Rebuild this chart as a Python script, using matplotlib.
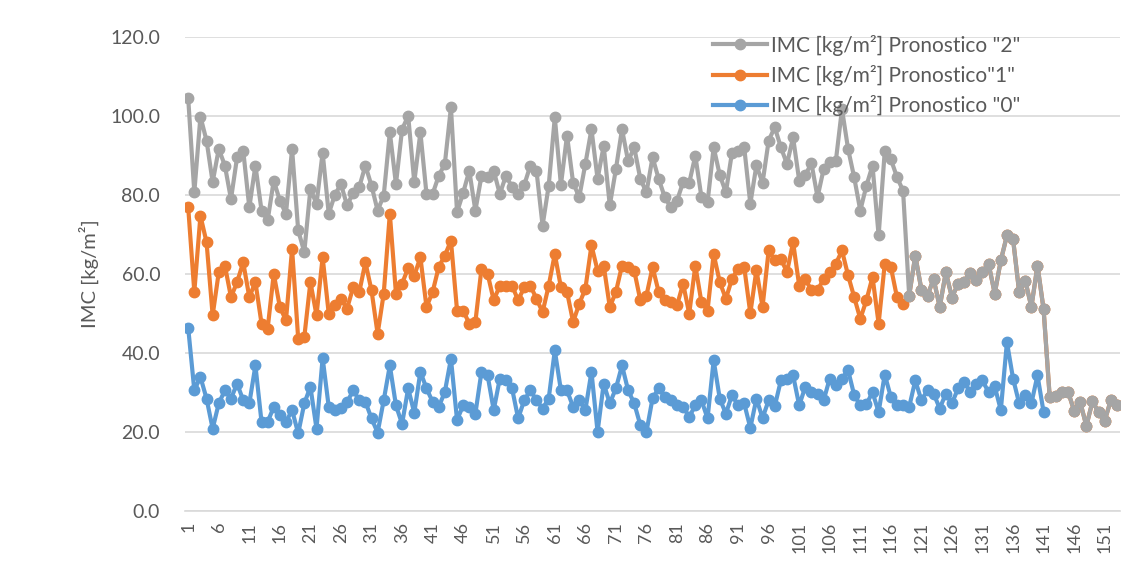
# IMC por pronostico: tres series de línea con marcadores
import matplotlib
matplotlib.use("Agg")
import matplotlib.pyplot as plt
import numpy as np

plt.rcParams['font.family'] = ['Lato', 'DejaVu Sans']

# valores
gris = [104.4, 80.6, 99.8, 93.7, 83.2, 91.6, 87.4, 78.9, 89.5, 91.2,
        76.8, 87.4, 76.0, 73.5, 83.6, 78.5, 75.2, 91.6, 71.0, 65.5,
        81.5, 77.7, 90.7, 75.2, 80.0, 82.7, 77.3, 80.5, 82.0, 87.4,
        82.3, 76.0, 79.8, 95.8, 82.7, 96.5, 100.0, 83.2, 95.8, 80.2,
        80.2, 84.8, 87.8, 102.1, 75.6, 80.5, 86.1, 76.0, 84.8, 84.5,
        86.1, 80.2, 84.8, 82.0, 80.2, 82.5, 87.4, 86.1, 72.2, 82.3,
        99.6, 82.5, 95.0, 83.0, 79.4, 87.8, 96.6, 84.0, 92.4, 77.3,
        86.5, 96.6, 88.5, 92.0, 84.0, 80.6, 89.5, 84.0, 79.4, 76.8,
        78.5, 83.2, 83.0, 89.9, 79.4, 78.1, 92.0, 85.0, 80.6, 90.7,
        91.0, 92.0, 77.7, 87.5, 83.0, 93.7, 97.1, 92.0, 87.8, 94.5,
        83.6, 85.0, 88.0, 79.4, 86.5, 88.2, 88.6, 101.7, 91.6, 84.4,
        76.0, 82.3, 87.4, 69.7, 91.0, 89.0, 84.5, 81.0, 54.5, 64.6,
        56.0, 54.5, 58.7, 51.6, 60.4, 54.0, 57.5, 58.0, 60.3, 58.5,
        60.5, 62.5, 55.0, 63.4, 69.7, 68.8, 55.4, 58.3, 51.6, 62.1,
        51.0, 28.8, 29.1, 30.0, 30.2, 25.3, 27.5, 21.5, 27.7, 25.0,
        22.8, 28.0, 26.8]

naranja = [76.8, 55.4, 74.7, 68.0, 49.5, 60.4, 62.1, 54.1, 57.9, 62.9,
           54.1, 57.9, 47.4, 46.1, 60.0, 51.6, 48.2, 66.3, 43.6, 44.0,
           57.9, 49.5, 64.2, 49.9, 52.0, 53.7, 51.2, 56.6, 55.4, 62.9,
           55.8, 44.8, 55.0, 75.2, 55.0, 57.5, 61.5, 59.5, 64.2, 51.6,
           55.4, 61.7, 64.6, 68.4, 50.7, 50.7, 47.4, 47.8, 61.3, 60.0,
           53.3, 57.0, 57.0, 57.0, 53.3, 56.6, 57.0, 53.7, 50.3, 57.0,
           65.0, 56.6, 55.4, 47.8, 52.4, 56.2, 67.2, 60.8, 62.1, 51.6,
           55.4, 62.1, 61.7, 60.8, 53.3, 54.5, 61.7, 55.4, 53.3, 52.8,
           52.0, 57.5, 49.9, 62.1, 52.8, 50.7, 65.0, 57.9, 53.7, 58.7,
           61.3, 61.7, 50.0, 61.0, 51.6, 65.9, 63.4, 63.8, 60.4, 68.0,
           57.0, 58.7, 55.8, 55.8, 58.7, 60.4, 62.5, 65.9, 59.6, 54.1,
           48.6, 53.3, 59.2, 47.4, 62.5, 61.7, 54.1, 52.4, 54.5, 64.6,
           56.0, 54.5, 58.7, 51.6, 60.4, 54.0, 57.5, 58.0, 60.3, 58.5,
           60.5, 62.5, 55.0, 63.4, 69.7, 68.8, 55.4, 58.3, 51.6, 62.1,
           51.0, 28.8, 29.1, 30.0, 30.2, 25.3, 27.5, 21.5, 27.7, 25.0,
           22.8, 28.0, 26.8]

azul = [46.3, 30.5, 33.9, 28.4, 20.8, 27.2, 30.5, 28.4, 32.2, 28.0,
        27.2, 36.8, 22.5, 22.5, 26.3, 24.2, 22.5, 25.5, 19.6, 27.2,
        31.4, 20.8, 38.7, 26.3, 25.5, 26.0, 27.5, 30.5, 28.0, 27.6,
        23.4, 19.8, 28.0, 36.8, 26.7, 22.0, 31.0, 24.8, 35.2, 31.0,
        27.6, 26.3, 30.1, 38.5, 23.0, 26.7, 26.3, 24.6, 35.2, 34.3,
        25.5, 33.5, 33.0, 31.0, 23.4, 28.0, 30.5, 28.0, 25.9, 28.4,
        40.6, 30.5, 30.5, 26.3, 28.0, 25.5, 35.2, 20.0, 32.2, 27.2,
        31.0, 36.8, 30.5, 27.2, 21.7, 20.0, 28.5, 31.0, 28.8, 28.0,
        26.7, 26.3, 23.8, 26.7, 28.0, 23.4, 38.1, 28.4, 24.6, 29.3,
        26.7, 27.2, 21.0, 28.4, 23.5, 28.0, 26.5, 33.0, 33.5, 34.3,
        26.7, 31.4, 30.1, 29.7, 28.0, 33.5, 31.8, 33.5, 35.6, 29.3,
        26.7, 27.0, 30.0, 25.0, 34.5, 28.8, 26.7, 26.7, 26.3, 33.0,
        28.0, 30.5, 29.7, 25.9, 29.7, 27.2, 31.0, 32.6, 30.1, 32.2,
        33.0, 30.0, 31.5, 25.5, 42.7, 33.5, 27.2, 29.3, 27.2, 34.3,
        25.0]

etiquetas = ['IMC [kg/m²] Pronostico "2"',
             'IMC [kg/m²] Pronostico"1"',
             'IMC [kg/m²] Pronostico "0"']

x_gris = np.arange(1, len(gris) + 1)
x_nar = np.arange(1, len(naranja) + 1)
x_azul = np.arange(1, len(azul) + 1)

fig = plt.figure(figsize=(11.29, 5.74), dpi=100)
ax = fig.add_axes([0.164, 0.11, 0.828, 0.826])

estilo = dict(linewidth=3.0, marker='o', markersize=7.5, solid_joinstyle='round')
l0, = ax.plot(x_azul, azul, color='#5B9BD5', zorder=3, **estilo)
l1, = ax.plot(x_nar, naranja, color='#ED7D31', zorder=4, **estilo)
l2, = ax.plot(x_gris, gris, color='#A5A5A5', zorder=5, **estilo)

ax.set_xlim(0.5, len(gris) + 0.5)
ax.set_ylim(0, 120)
ax.set_yticks(np.arange(0, 121, 20))
ax.set_yticklabels([f"{v:.1f}" for v in np.arange(0, 121, 20)])
ax.set_xticks(np.arange(1, len(gris) + 1, 5))
ax.set_xticklabels([str(v) for v in np.arange(1, len(gris) + 1, 5)], rotation=90)

ax.grid(axis='y', color='#D9D9D9', linewidth=1.2, zorder=0)
ax.set_axisbelow(True)
for s in ['top', 'right', 'left']:
    ax.spines[s].set_visible(False)
ax.spines['bottom'].set_color('#D9D9D9')
ax.spines['bottom'].set_linewidth(1.2)
ax.tick_params(axis='both', length=0, colors='#595959')
ax.tick_params(axis='y', pad=18, labelsize=14)
ax.tick_params(axis='x', pad=8, labelsize=13)
ax.set_ylabel("IMC [kg/m²]", fontsize=14.5, color='#595959', labelpad=8)

ax.legend([l2, l1, l0], etiquetas, loc='upper left',
          bbox_to_anchor=(698 / 1129, 1 - 20 / 574), bbox_transform=fig.transFigure,
          frameon=False, fontsize=15, labelcolor='#595959',
          handlelength=2.6, handletextpad=0.2, labelspacing=0.45, borderpad=0.2)

fig.savefig("out.png", dpi=100)
